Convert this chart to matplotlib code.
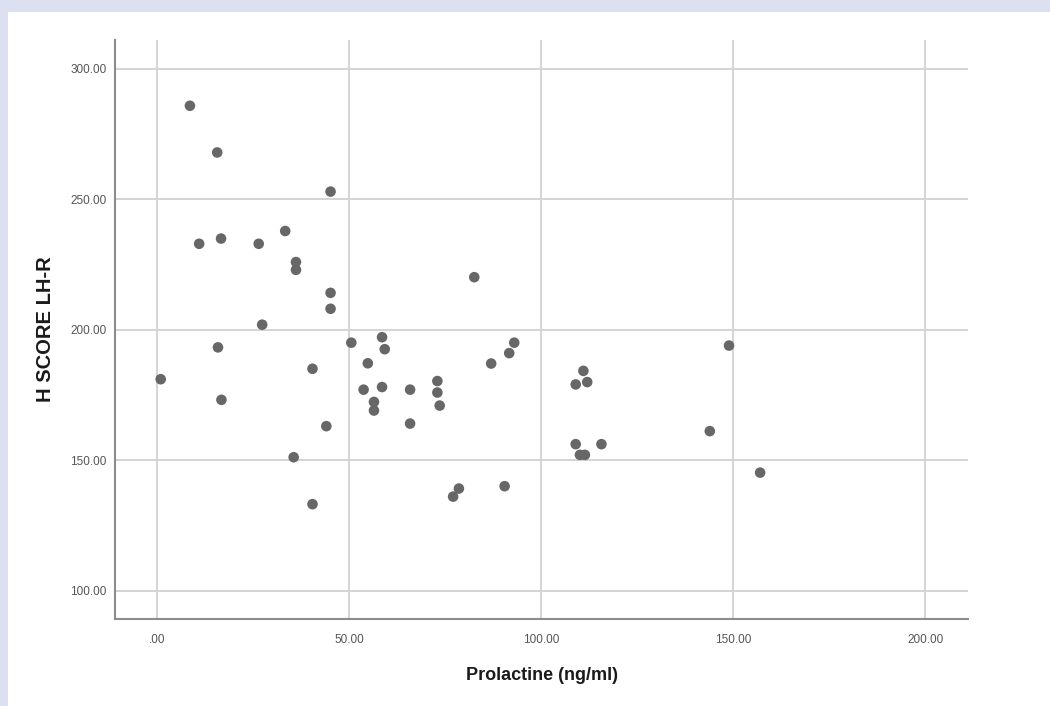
import matplotlib
matplotlib.use("Agg")
import matplotlib.pyplot as plt
from matplotlib.patches import Rectangle
from matplotlib.ticker import FuncFormatter

# Prolactine (ng/ml) vs H SCORE LH-R
prolactine = [8.6, 15.7, 45.2, 11.0, 16.7, 26.5, 33.4, 36.2, 36.2, 45.2,
              45.2, 27.4, 50.6, 58.6, 59.3, 15.9, 1.0, 40.5, 16.8, 54.9,
              53.8, 58.6, 56.5, 56.5, 44.1, 35.6, 40.5, 82.6, 65.9, 65.9,
              73.0, 73.0, 73.6, 87.0, 91.7, 93.0, 78.6, 77.1, 90.5, 111.0,
              109.0, 112.0, 109.0, 110.1, 111.4, 115.7, 143.9, 148.9, 157.0]
h_score = [285.9, 268.0, 253.0, 233.0, 235.0, 233.0, 237.9, 226.0, 223.0, 214.2,
           208.1, 202.0, 195.1, 197.2, 192.6, 193.3, 181.1, 185.1, 173.2, 187.2,
           177.1, 178.1, 172.4, 169.1, 163.1, 151.2, 133.2, 220.2, 177.1, 164.1,
           180.4, 176.0, 171.0, 187.1, 191.1, 195.1, 139.2, 136.1, 140.1, 184.3,
           179.1, 180.0, 156.2, 152.1, 152.1, 156.2, 161.2, 194.0, 145.3]

x_ticks = [0, 50, 100, 150, 200]
y_ticks = [100, 150, 200, 250, 300]

W, H = 1050, 706
fig = plt.figure(figsize=(W / 100, H / 100), dpi=100)
fig.patch.set_facecolor("#dde0f0")
# white panel inside the lavender frame (drawn behind the axes)
fig.patches.append(Rectangle((8 / W, 0), 1 - 8 / W, 1 - 12 / H, transform=fig.transFigure,
                             facecolor="white", edgecolor="none", zorder=-5))

ax = fig.add_axes([115 / W, 1 - 619 / H, (968 - 115) / W, (619 - 40) / H])
ax.set_facecolor("white")

ax.scatter(prolactine, h_score, s=58, color="#676767", edgecolors="none", zorder=3)

ax.set_xlim(-10.9, 211.1)
ax.set_ylim(89.2, 311.1)
ax.set_xticks(x_ticks)
ax.set_yticks(y_ticks)


def fmt(v, pos):
    s = f"{v:.2f}"
    return s[1:] if s.startswith("0") else s


ax.xaxis.set_major_formatter(FuncFormatter(fmt))
ax.yaxis.set_major_formatter(FuncFormatter(fmt))

ax.grid(True, color="#d4d4d4", linewidth=1.4, zorder=1)
ax.set_axisbelow(True)
for side in ("top", "right"):
    ax.spines[side].set_visible(False)
for side in ("left", "bottom"):
    ax.spines[side].set_color("#8c8c8c")
    ax.spines[side].set_linewidth(1.5)

tick_font = ["Liberation Sans Narrow", "Liberation Sans"]
ax.tick_params(length=0, labelsize=8.5, labelcolor="#555555")
ax.tick_params(axis="y", pad=6)
ax.tick_params(axis="x", pad=11)
for lab in ax.get_xticklabels() + ax.get_yticklabels():
    lab.set_family(tick_font)

ax.set_xlabel("Prolactine (ng/ml)", fontsize=13, fontweight="bold", family=tick_font,
              color="#1a1a1a", labelpad=15)
ax.set_ylabel("H SCORE LH-R", fontsize=14.5, fontweight="bold", family=tick_font,
              color="#1a1a1a", labelpad=11)

fig.savefig("out.png", dpi=100, facecolor=fig.get_facecolor())
